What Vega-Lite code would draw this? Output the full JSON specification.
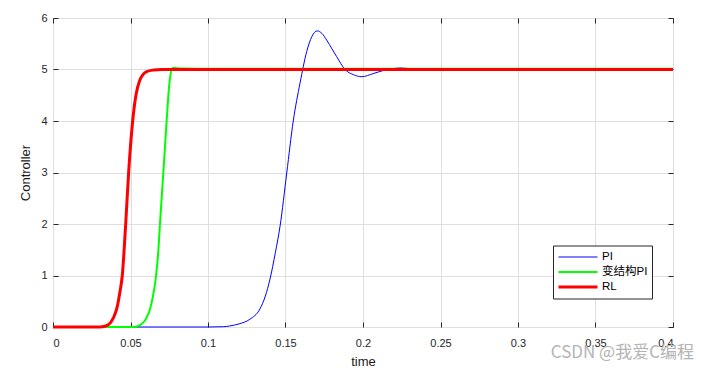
{
  "$schema": "https://vega.github.io/schema/vega-lite/v6.json",
  "width": 620,
  "height": 309,
  "autosize": {"type": "none"},
  "padding": {"left": 53, "top": 18, "right": 37, "bottom": 41},
  "background": "white",
  "config": {
    "font": "Liberation Sans",
    "view": {"stroke": "#262626", "strokeWidth": 1},
    "axis": {
      "domain": false,
      "grid": true,
      "gridColor": "#dedede",
      "gridWidth": 1,
      "tickColor": "#262626",
      "tickSize": -5,
      "labelColor": "#262626",
      "labelFont": "Liberation Sans",
      "labelFontSize": 11,
      "titleFont": "Liberation Sans",
      "titleFontSize": 13,
      "titleFontWeight": "normal",
      "titleColor": "#1a1a1a"
    },
    "legend": {
      "orient": "none",
      "legendX": 500,
      "legendY": 227.5,
      "strokeColor": "#262626",
      "fillColor": "white",
      "padding": 4,
      "symbolType": "stroke",
      "symbolSize": 1521,
      "clipHeight": 15,
      "rowPadding": 0,
      "labelFont": "Liberation Sans, Noto Sans CJK SC",
      "labelFontSize": 11.5,
      "labelColor": "#000000",
      "labelOffset": 3
    }
  },
  "title": {
    "text": "CSDN @我爱C编程",
    "orient": "bottom",
    "anchor": "end",
    "frame": "group",
    "font": "Noto Sans CJK SC",
    "fontSize": 17,
    "fontWeight": "normal",
    "color": "#b4b4b4",
    "offset": -23,
    "dx": 21
  },
  "data": {
    "values": [
      {"t": 0, "v": 0, "s": "PI"},
      {"t": 0.1, "v": 0, "s": "PI"},
      {"t": 0.11, "v": 0.006, "s": "PI"},
      {"t": 0.114, "v": 0.02, "s": "PI"},
      {"t": 0.12, "v": 0.06, "s": "PI"},
      {"t": 0.127, "v": 0.15, "s": "PI"},
      {"t": 0.1335, "v": 0.35, "s": "PI"},
      {"t": 0.137, "v": 0.6, "s": "PI"},
      {"t": 0.14, "v": 0.93, "s": "PI"},
      {"t": 0.1435, "v": 1.45, "s": "PI"},
      {"t": 0.1465, "v": 1.96, "s": "PI"},
      {"t": 0.1508, "v": 2.99, "s": "PI"},
      {"t": 0.155, "v": 4.0, "s": "PI"},
      {"t": 0.1594, "v": 4.74, "s": "PI"},
      {"t": 0.1637, "v": 5.35, "s": "PI"},
      {"t": 0.167, "v": 5.64, "s": "PI"},
      {"t": 0.1705, "v": 5.75, "s": "PI"},
      {"t": 0.1735, "v": 5.7, "s": "PI"},
      {"t": 0.1766, "v": 5.57, "s": "PI"},
      {"t": 0.18, "v": 5.4, "s": "PI"},
      {"t": 0.183, "v": 5.25, "s": "PI"},
      {"t": 0.1884, "v": 5.0, "s": "PI"},
      {"t": 0.1938, "v": 4.9, "s": "PI"},
      {"t": 0.1992, "v": 4.86, "s": "PI"},
      {"t": 0.2066, "v": 4.92, "s": "PI"},
      {"t": 0.213, "v": 4.98, "s": "PI"},
      {"t": 0.218, "v": 5.01, "s": "PI"},
      {"t": 0.2239, "v": 5.03, "s": "PI"},
      {"t": 0.2325, "v": 5.01, "s": "PI"},
      {"t": 0.24, "v": 5.0, "s": "PI"},
      {"t": 0.4, "v": 5.0, "s": "PI"},
      {"t": 0, "v": 0, "s": "变结构PI"},
      {"t": 0.05, "v": 0, "s": "变结构PI"},
      {"t": 0.054, "v": 0.01, "s": "变结构PI"},
      {"t": 0.058, "v": 0.08, "s": "变结构PI"},
      {"t": 0.06, "v": 0.16, "s": "变结构PI"},
      {"t": 0.0626, "v": 0.35, "s": "变结构PI"},
      {"t": 0.0645, "v": 0.6, "s": "变结构PI"},
      {"t": 0.0665, "v": 1.0, "s": "变结构PI"},
      {"t": 0.068, "v": 1.5, "s": "变结构PI"},
      {"t": 0.069, "v": 2.0, "s": "变结构PI"},
      {"t": 0.0712, "v": 3.0, "s": "变结构PI"},
      {"t": 0.0733, "v": 4.0, "s": "变结构PI"},
      {"t": 0.075, "v": 4.7, "s": "变结构PI"},
      {"t": 0.0765, "v": 5.0, "s": "变结构PI"},
      {"t": 0.0772, "v": 5.03, "s": "变结构PI"},
      {"t": 0.08, "v": 5.025, "s": "变结构PI"},
      {"t": 0.085, "v": 5.02, "s": "变结构PI"},
      {"t": 0.1, "v": 5.015, "s": "变结构PI"},
      {"t": 0.4, "v": 5.015, "s": "变结构PI"},
      {"t": 0, "v": 0, "s": "RL"},
      {"t": 0.03, "v": 0, "s": "RL"},
      {"t": 0.034, "v": 0.02, "s": "RL"},
      {"t": 0.037, "v": 0.08, "s": "RL"},
      {"t": 0.039, "v": 0.18, "s": "RL"},
      {"t": 0.0415, "v": 0.4, "s": "RL"},
      {"t": 0.043, "v": 0.65, "s": "RL"},
      {"t": 0.0447, "v": 1.0, "s": "RL"},
      {"t": 0.0469, "v": 2.0, "s": "RL"},
      {"t": 0.0488, "v": 3.0, "s": "RL"},
      {"t": 0.0514, "v": 4.0, "s": "RL"},
      {"t": 0.0535, "v": 4.5, "s": "RL"},
      {"t": 0.0561, "v": 4.8, "s": "RL"},
      {"t": 0.058, "v": 4.9, "s": "RL"},
      {"t": 0.0604, "v": 4.96, "s": "RL"},
      {"t": 0.065, "v": 4.99, "s": "RL"},
      {"t": 0.07, "v": 5.0, "s": "RL"},
      {"t": 0.4, "v": 5.0, "s": "RL"}
    ]
  },
  "layer": [
    {
      "encoding": {
        "x": {
          "field": "t", "type": "quantitative",
          "scale": {"domain": [0, 0.4], "nice": false, "zero": false},
          "axis": {"values": [0, 0.05, 0.1, 0.15, 0.2, 0.25, 0.3, 0.35, 0.4], "format": "~g", "title": "time", "labelPadding": 15, "titlePadding": 7}
        },
        "y": {
          "field": "v", "type": "quantitative",
          "scale": {"domain": [0, 6], "nice": false},
          "axis": {"values": [0, 1, 2, 3, 4, 5, 6], "title": "Controller", "labelPadding": 11, "titlePadding": 8}
        },
        "color": {
          "field": "s", "type": "nominal",
          "scale": {"domain": ["PI", "变结构PI", "RL"], "range": ["#0000ff", "#00ff00", "#ff0000"]},
          "legend": {"title": null}
        },
        "strokeWidth": {
          "field": "s", "type": "nominal",
          "scale": {"domain": ["PI", "变结构PI", "RL"], "range": [1, 3, 3]},
          "legend": {"title": null}
        }
      },
      "layer": [
        {"transform": [{"filter": "datum.s === 'PI'"}], "mark": {"type": "line", "interpolate": "monotone"}},
        {"transform": [{"filter": "datum.s === '变结构PI'"}], "mark": {"type": "line", "interpolate": "monotone"}},
        {"transform": [{"filter": "datum.s === 'RL'"}], "mark": {"type": "line", "interpolate": "monotone"}}
      ]
    },
    {
      "mark": {"type": "line", "opacity": 0},
      "encoding": {
        "x": {"field": "t", "type": "quantitative", "axis": {"orient": "top", "values": [0, 0.05, 0.1, 0.15, 0.2, 0.25, 0.3, 0.35, 0.4], "labels": false, "grid": false, "title": null}},
        "y": {"field": "v", "type": "quantitative", "axis": {"orient": "right", "values": [0, 1, 2, 3, 4, 5, 6], "labels": false, "grid": false, "title": null}},
        "detail": {"field": "s", "type": "nominal"}
      }
    }
  ],
  "resolve": {"axis": {"x": "independent", "y": "independent"}}
}
